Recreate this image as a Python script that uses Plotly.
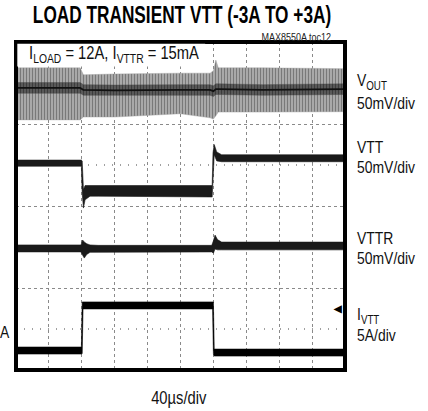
import json
import plotly.graph_objects as go

# time axis: 40 us/div, 10 div ; vertical: 8 div
t_vout   = [0, 78, 82, 120, 200, 236, 240, 243, 246, 300, 400]
vout_hi  = [7.37, 7.37, 7.20, 7.22, 7.24, 7.24, 7.30, 7.56, 7.37, 7.37, 7.35]
vout_lo  = [6.10, 6.10, 6.17, 6.17, 6.25, 6.15, 6.12, 6.20, 6.29, 6.29, 6.30]
vout_mid = [6.88, 6.88, 6.83, 6.82, 6.83, 6.83, 6.80, 6.85, 6.85, 6.83, 6.85]

t_vtt  = [0, 79.5, 80.5, 82, 84, 90, 100, 238.5, 239.5, 241, 244, 250, 400]
vtt_hi = [5.12, 5.12, 5.10, 4.40, 4.50, 4.50, 4.50, 4.50, 5.30, 5.50, 5.32, 5.25, 5.25]
vtt_lo = [4.97, 4.97, 4.30, 3.95, 4.15, 4.24, 4.24, 4.22, 4.40, 5.25, 5.10, 5.08, 5.08]

t_vttr  = [0, 79, 81, 83, 86, 90, 100, 238, 240, 242, 245, 250, 400]
vttr_hi = [3.05, 3.05, 3.17, 3.12, 3.08, 3.05, 3.04, 3.04, 3.15, 3.29, 3.18, 3.12, 3.12]
vttr_lo = [2.88, 2.88, 2.80, 2.73, 2.82, 2.87, 2.88, 2.88, 2.85, 2.95, 2.93, 2.93, 2.93]

t_ivtt  = [0, 79.5, 80.5, 81.5, 239, 240, 241, 400]
ivtt_hi = [0.56, 0.56, 1.66, 1.66, 1.66, 1.66, 0.51, 0.51]
ivtt_lo = [0.39, 0.39, 0.40, 1.49, 1.49, 0.40, 0.34, 0.34]

right_labels = ["V<sub>OUT</sub>", "50mV/div", "VTT", "50mV/div",
                "VTTR", "50mV/div", "I<sub>VTT</sub>", "5A/div"]
right_label_y = [0.877, 0.814, 0.677, 0.616, 0.402, 0.341, 0.166, 0.105]

FONT = "Liberation Sans, Arial, sans-serif"

def band(t, hi, lo, color, lw=0.6, pattern=None):
    kw = {}
    if pattern:
        kw["fillpattern"] = pattern
    return go.Scatter(x=list(t) + list(t)[::-1], y=list(hi) + list(lo)[::-1],
                      fill="toself", fillcolor=color, mode="lines",
                      line=dict(color=color, width=lw), hoverinfo="skip",
                      showlegend=False, **kw)

fig = go.Figure()
fig.add_trace(band(t_vout, vout_hi, vout_lo, "#9a9a9a", lw=0.4,
                   pattern=dict(shape="|", fgcolor="#3a3a3a", bgcolor="#b8b8b8", size=3, solidity=0.5)))
fig.add_trace(band(t_vout, [v + 0.13 for v in vout_mid], [v - 0.13 for v in vout_mid], "#444", lw=0.4,
                   pattern=dict(shape="|", fgcolor="#111111", bgcolor="#666666", size=3, solidity=0.55)))
fig.add_trace(go.Scatter(x=t_vout, y=vout_mid, mode="lines", line=dict(color="#111", width=1.8),
                         showlegend=False, hoverinfo="skip"))
fig.add_trace(band(t_vtt, vtt_hi, vtt_lo, "#1a1a1a"))
fig.add_trace(band(t_vttr, vttr_hi, vttr_lo, "#1a1a1a"))
fig.add_trace(band(t_ivtt, ivtt_hi, ivtt_lo, "#000000"))

fig.update_layout(
    width=428, height=411,
    margin=dict(l=16, r=83, t=42, b=41),
    paper_bgcolor="white", plot_bgcolor="white",
    showlegend=False,
    font=dict(family=FONT, color="#111", size=17),
    xaxis=dict(range=[0, 400], dtick=40, showticklabels=False, ticks="",
               showgrid=True, gridcolor="#8a8a8a", griddash="dot", gridwidth=1,
               zeroline=False, fixedrange=True),
    yaxis=dict(range=[0, 8], dtick=2, tick0=0, showticklabels=False, ticks="",
               showgrid=True, gridcolor="#8a8a8a", griddash="dot", gridwidth=1.2,
               minor=dict(dtick=1, showgrid=True, gridcolor="#a0a0a0",
                          griddash="1px,7px", gridwidth=1.5),
               zeroline=False, fixedrange=True),
)

# frame
fig.add_shape(type="rect", xref="paper", yref="paper", x0=0, x1=1, y0=0, y1=1,
              line=dict(color="black", width=4), layer="above")
# white label box
fig.add_shape(type="rect", xref="paper", yref="paper", x0=0.004, x1=0.575, y0=0.925, y1=0.995,
              line=dict(width=0), fillcolor="white", layer="above")

scales = []

def ann(scale=0.82, **kw):
    fig.add_annotation(showarrow=False, **kw)
    scales.append(scale)

ann(xref="paper", yref="paper", x=0.033, y=0.962, xanchor="left", yanchor="middle",
    text="I<sub>LOAD</sub> = 12A, I<sub>VTTR</sub> = 15mA", font=dict(size=18))

for txt, yy in zip(right_labels, right_label_y):
    ann(xref="paper", yref="paper", x=1.030, y=yy, xanchor="left", yanchor="middle",
        text=txt, font=dict(size=17))

ann(xref="paper", yref="paper", x=-0.033, y=0.113, xanchor="center", yanchor="middle",
    text="A", font=dict(size=17))
ann(scale=1.0, x=391, y=1.49, xanchor="center", yanchor="middle", text="<b>◀</b>",
    font=dict(size=10, color="black"))
ann(xref="paper", yref="paper", x=0.495, y=-0.085, xanchor="center", yanchor="middle",
    text="40µs/div", font=dict(size=18))
ann(scale=0.75, xref="paper", yref="paper", x=(182.5 - 16) / 329, y=(370 - 15) / 328,
    xanchor="center", yanchor="middle",
    text="<b>LOAD TRANSIENT VTT (-3A TO +3A)</b>", font=dict(size=23, color="black"))
ann(xref="paper", yref="paper", x=(333 - 16) / 329, y=(370 - 37) / 328,
    xanchor="right", yanchor="middle",
    text="MAX8550A toc12", font=dict(size=11, color="#222"))

post = """
document.body.style.margin = '0';
var gd = document.getElementById('{plot_id}');
var sc = %s;
var anns = gd.layout.annotations;
gd.querySelectorAll('g.annotation').forEach(function(g) {
  var i = +g.getAttribute('data-index');
  var a = anns[i];
  var s = sc[i];
  if (s === undefined || s === 1) return;
  var t = g.querySelector('text.annotation-text');
  if (!t) return;
  var o = a.xanchor === 'left' ? 'left center' : (a.xanchor === 'right' ? 'right center' : 'center center');
  t.style.transformBox = 'fill-box';
  t.style.transformOrigin = o;
  t.style.transform = 'scaleX(' + s + ')';
});
""" % json.dumps(scales)

fig.write_html("out.html", post_script=post, config={"displayModeBar": False})
